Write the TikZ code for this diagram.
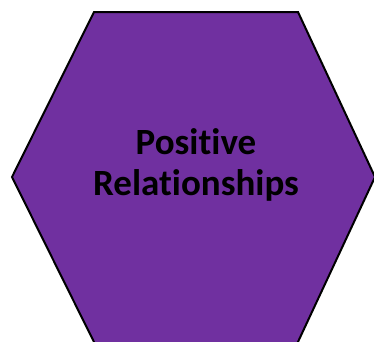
\documentclass[tikz,border=0pt]{standalone}
\usepackage{fontspec}
\setmainfont[Ligatures=NoCommon]{Carlito}
\definecolor{hexpurple}{HTML}{7030A0}
\tikzset{hexcell/.style={fill=hexpurple,draw=black,line width=2pt,line join=miter}}
\begin{document}
\begin{tikzpicture}[x=1pt,y=-1pt]

\useasboundingbox (0,0) rectangle (374,341);
\clip (0,0) rectangle (374,341);

\draw[hexcell] (94,12) -- (298,12) -- (375,177) -- (297,344) -- (95,344) -- (12,177) -- cycle;
\node[align=center,font=\fontsize{37}{41}\selectfont\bfseries] (label) at (196,165) {Positive\\Relationships};

\end{tikzpicture}
\end{document}
